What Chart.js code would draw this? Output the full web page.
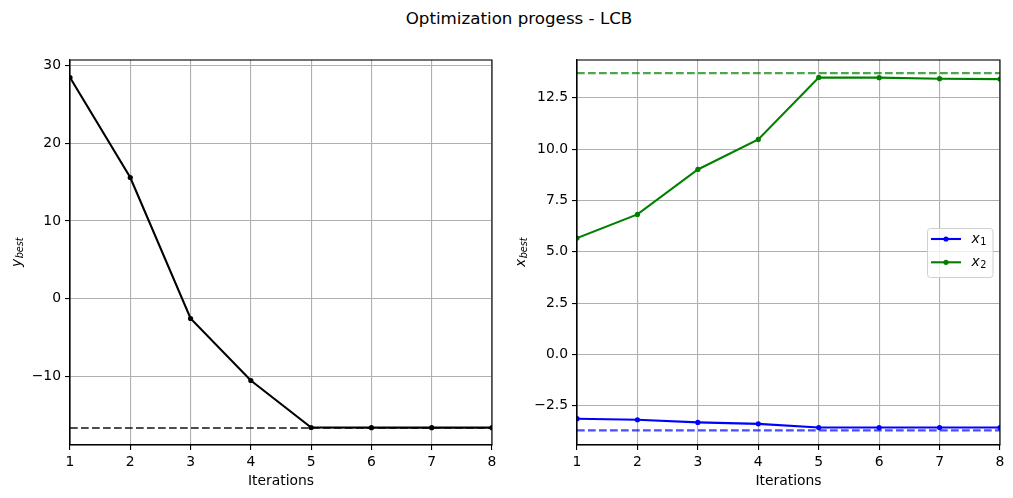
<!DOCTYPE html>
<html>
<head>
<meta charset="utf-8">
<script src="https://cdn.jsdelivr.net/npm/chart.js@4.4.1/dist/chart.umd.min.js"></script>
<style>
body{margin:0;background:#fff;width:1013px;height:498px;overflow:hidden;position:relative;font-family:"DejaVu Sans";}
#title{position:absolute;top:8px;left:519px;transform:translateX(-50%);font-size:16.7px;white-space:nowrap;color:#000;}
#c1{position:absolute;left:0;top:0}
#c2{position:absolute;left:506px;top:0}
</style>
</head>
<body>
<div id="title">Optimization progess - LCB</div>
<canvas id="c1" width="506" height="498"></canvas>
<canvas id="c2" width="507" height="498"></canvas>
<script>
// values
var iterations = [1, 2, 3, 4, 5, 6, 7, 8];
var yBest  = [28.47, 15.6, -2.55, -10.53, -16.58, -16.6, -16.6, -16.6];
var x1Best = [-3.13, -3.18, -3.31, -3.38, -3.56, -3.56, -3.56, -3.56];
var x2Best = [5.67, 6.82, 9.01, 10.47, 13.49, 13.48, 13.43, 13.41];
var yOpt = -16.64;
var x1Opt = -3.70;
var x2Opt = 13.70;
var yTicksLeft = [-10, 0, 10, 20, 30];
var yTicksRight = [-2.5, 0, 2.5, 5, 7.5, 10, 12.5];
var seriesNames = [['x', '1'], ['x', '2']];

var FONT = '"DejaVu Sans"';
var GRID = '#b0b0b0';

function pts(arr) {
    return iterations.map(function (it, i) { return {x: it, y: arr[i]} })
}
function flat(v) {
    return iterations.map(function (it) { return {x: it, y: v} })
}
function minus(s) { return s.replace('-', '\u2212') }

function drawMath(ctx, x, y, main, sub, rotate) {
    ctx.save()
    ctx.translate(x, y)
    if (rotate) ctx.rotate(-Math.PI / 2)
    ctx.fillStyle = '#000'
    ctx.textBaseline = 'middle'
    ctx.textAlign = 'left'
    ctx.font = 'italic 13.9px ' + FONT
    var w1 = ctx.measureText(main).width
    ctx.font = 'italic 9.7px ' + FONT
    var w2 = ctx.measureText(sub).width
    var start = rotate ? -(w1 + w2) / 2 : 0
    ctx.font = 'italic 13.9px ' + FONT
    ctx.fillText(main, start, 0)
    ctx.font = (rotate ? 'italic ' : '') + '9.7px ' + FONT
    ctx.fillText(sub, start + w1 + 0.5, 3.5)
    ctx.restore()
}

var extras = {
    id: 'extras',
    afterDraw: function (chart, args, opts) {
        var ctx = chart.ctx
        var a = chart.chartArea
        // spines
        ctx.save()
        ctx.strokeStyle = '#000'
        ctx.lineWidth = 1.1
        ctx.strokeRect(a.left, a.top, a.right - a.left, a.bottom - a.top)
        ctx.restore()
        drawMath(ctx, opts.labelX, (a.top + a.bottom) / 2, opts.label[0], opts.label[1], true)
        if (opts.legend) {
            var lx = 421.5, ly = 228.5, lw = 65.5, lh = 49
            ctx.save()
            ctx.beginPath()
            ctx.roundRect(lx, ly, lw, lh, 3)
            ctx.fillStyle = 'rgba(255,255,255,0.8)'
            ctx.fill()
            ctx.strokeStyle = '#d0d0d0'
            ctx.lineWidth = 1
            ctx.stroke()
            var colors = ['#0000ff', '#008000']
            for (var i = 0; i < seriesNames.length; i++) {
                var yy = 239 + i * 23.3
                ctx.strokeStyle = colors[i]
                ctx.lineWidth = 2.1
                ctx.beginPath()
                ctx.moveTo(425, yy)
                ctx.lineTo(455, yy)
                ctx.stroke()
                ctx.fillStyle = colors[i]
                ctx.beginPath()
                ctx.arc(440, yy, 2.6, 0, Math.PI * 2)
                ctx.fill()
                drawMath(ctx, 465.5, yy, seriesNames[i][0], seriesNames[i][1], false)
            }
            ctx.restore()
        }
    }
}

function lineSet(arr, color) {
    return {
        data: pts(arr), borderColor: color, backgroundColor: color,
        borderWidth: 2.1, pointRadius: 2.6, pointBorderWidth: 0,
        pointBackgroundColor: color, tension: 0
    }
}
function dashSet(v, color) {
    return {
        data: flat(v), borderColor: color, borderWidth: 2.1,
        borderDash: [7.7, 3.3], pointRadius: 0, tension: 0
    }
}

function makeOptions(ymin, ymax, ticks, fmt, yWidth, rightPad, label, labelX, legend) {
    return {
        responsive: false,
        animation: false,
        layout: {padding: {left: 0, right: rightPad, top: 60, bottom: 0}},
        plugins: {
            legend: {display: false},
            tooltip: {enabled: false},
            extras: {label: label, labelX: labelX, legend: legend}
        },
        scales: {
            x: {
                type: 'linear', min: 1, max: 8,
                ticks: {stepSize: 1, color: '#000', padding: 4, font: {family: FONT, size: 13.9}},
                grid: {color: GRID, lineWidth: 1.1, tickLength: 5, tickColor: '#000', tickWidth: 1.1},
                border: {color: '#000', width: 1.1},
                title: {display: true, text: 'Iterations', color: '#000', font: {family: FONT, size: 13.9}, padding: {top: 0, bottom: 8.5}},
                afterFit: function (s) { s.height = 53 }
            },
            y: {
                type: 'linear', min: ymin, max: ymax,
                afterBuildTicks: function (s) { s.ticks = ticks.map(function (v) { return {value: v} }) },
                ticks: {color: '#000', padding: 4, font: {family: FONT, size: 13.9}, callback: fmt},
                grid: {color: GRID, lineWidth: 1.1, tickLength: 5, tickColor: '#000', tickWidth: 1.1},
                border: {color: '#000', width: 1.1},
                afterFit: function (s) { s.width = yWidth }
            }
        }
    }
}

new Chart(document.getElementById('c1'), {
    type: 'line',
    data: {datasets: [lineSet(yBest, '#000000'), dashSet(yOpt, 'rgba(0,0,0,0.7)')]},
    options: makeOptions(-18.83, 30.72, yTicksLeft,
        function (v) { return minus(String(v)) }, 70, 14, ['y', 'best'], 17, false),
    plugins: [extras]
});

new Chart(document.getElementById('c2'), {
    type: 'line',
    data: {datasets: [
        lineSet(x1Best, '#0000ff'), lineSet(x2Best, '#008000'),
        dashSet(x1Opt, 'rgba(0,0,255,0.7)'), dashSet(x2Opt, 'rgba(0,128,0,0.7)')
    ]},
    options: makeOptions(-4.41, 14.34, yTicksRight,
        function (v) { return minus(v.toFixed(1)) }, 71, 13, ['x', 'best'], 15, true),
    plugins: [extras]
});
</script>
</body>
</html>
